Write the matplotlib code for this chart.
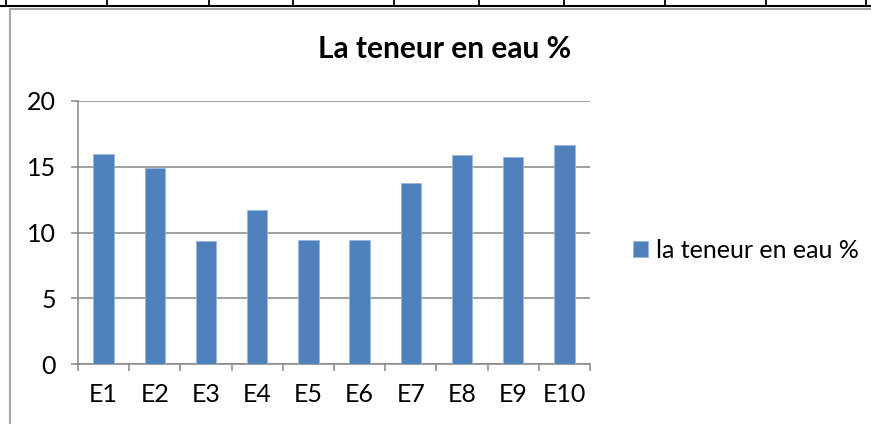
import matplotlib
matplotlib.use("Agg")
import matplotlib.pyplot as plt
from matplotlib.lines import Line2D

plt.rcParams["font.family"] = ["Lato", "DejaVu Sans"]

categories = ["E1", "E2", "E3", "E4", "E5", "E6", "E7", "E8", "E9", "E10"]
values = [15.94, 14.88, 9.32, 11.70, 9.42, 9.42, 13.77, 15.91, 15.73, 16.62]
yticks = [0, 5, 10, 15, 20]
title = "La teneur en eau %"
series_name = "la teneur en eau %"

W, H = 871, 424
BAR = "#4f81bd"
GRID = "#868686"
FS = 18

fig = plt.figure(figsize=(W / 100, H / 100), dpi=100)
fig.patch.set_facecolor("white")


def px(x, y):
    # pixel position (top-left origin) -> figure fraction
    return x / W, 1 - y / H


# spreadsheet cell borders above the chart
fig.add_artist(Line2D([0, 1], [1 - 5.5 / H] * 2, color="black", lw=1.5))
for xc in [6, 107, 209, 293, 394, 479, 564, 665, 766, 866]:
    fig.add_artist(Line2D([xc / W] * 2, [1, 1 - 6 / H], color="black", lw=1.3))

# chart frame
fig.add_artist(Line2D([9.5 / W, 1], [1 - 9 / H] * 2, color="#a6a6a6", lw=1.5))
fig.add_artist(Line2D([9.5 / W] * 2, [1 - 9 / H, 0], color="#a6a6a6", lw=1.5))

left, top, right, bottom = 78, 101, 590, 364
ax = fig.add_axes([left / W, 1 - bottom / H, (right - left) / W, (bottom - top) / H])

xs = list(range(len(categories)))
bars = ax.bar(xs, values, width=0.4, color=BAR, edgecolor="#9bb7de", linewidth=0.6,
              label=series_name, zorder=3)

ax.set_xlim(-0.5, len(categories) - 0.5)
ax.set_ylim(0, 20)
ax.set_yticks(yticks)
ax.yaxis.grid(True, color=GRID, lw=1.1, zorder=0)
ax.set_axisbelow(True)

ax.set_xticks(xs)
ax.set_xticklabels(categories)
ax.set_xticks([i - 0.5 for i in range(len(categories) + 1)], minor=True)
ax.tick_params(axis="x", which="major", length=0, pad=14, labelsize=FS, colors="black")
ax.tick_params(axis="x", which="minor", length=5, width=1.1, color=GRID, direction="out")
ax.tick_params(axis="y", length=5, width=1.1, color=GRID, direction="out", pad=11,
               labelsize=FS, labelcolor="black")

for side in ["top", "right"]:
    ax.spines[side].set_visible(False)
for side in ["left", "bottom"]:
    ax.spines[side].set_color(GRID)
    ax.spines[side].set_linewidth(1.1)

fig.text(445 / W, 1 - 49 / H, title, ha="center", va="center",
         fontsize=21.5, fontweight="bold")

ax.legend(handles=[bars], labels=[series_name], loc="center left",
          bbox_to_anchor=px(620, 250), bbox_transform=fig.transFigure,
          frameon=False, fontsize=FS, handlelength=0.6, handleheight=0.6,
          handletextpad=0.35, borderpad=0)

fig.savefig("out.png", dpi=100, facecolor="white")
